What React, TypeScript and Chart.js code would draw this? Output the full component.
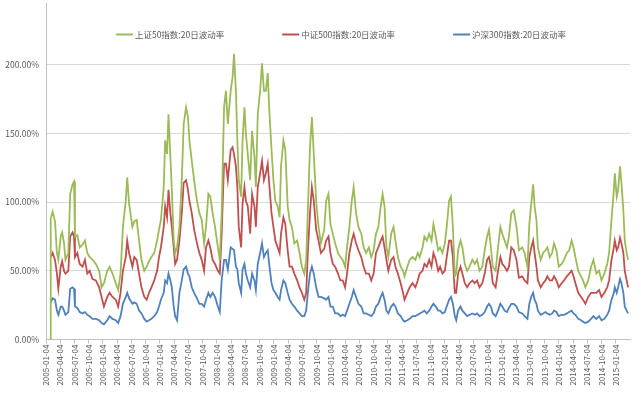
import React, { useEffect, useRef } from 'react';
import { Chart, registerables } from 'chart.js';

Chart.register(...registerables);

const seriesNames = ['上证50指数:20日波动率', '中证500指数:20日波动率', '沪深300指数:20日波动率'];
const seriesColors = ['#9BBB59', '#C0504D', '#4F81BD'];

const tickLabels = [
  '2005-01-04', '2005-04-04', '2005-07-04', '2005-10-04', '2006-01-04', '2006-04-04', '2006-07-04', '2006-10-04',
  '2007-01-04', '2007-04-04', '2007-07-04', '2007-10-04', '2008-01-04', '2008-04-04', '2008-07-04', '2008-10-04',
  '2009-01-04', '2009-04-04', '2009-07-04', '2009-10-04', '2010-01-04', '2010-04-04', '2010-07-04', '2010-10-04',
  '2011-01-04', '2011-04-04', '2011-07-04', '2011-10-04', '2012-01-04', '2012-04-04', '2012-07-04', '2012-10-04',
  '2013-01-04', '2013-04-04', '2013-07-04', '2013-10-04', '2014-01-04', '2014-04-04', '2014-07-04', '2014-10-04',
  '2015-01-04',
];
const yTicks = [0, 50, 100, 150, 200];

// time of each sample, in months since 2005-01-04
const months = [
  0.85, 1.0, 1.4, 1.9, 2.3, 2.6, 3.1, 3.4, 3.8, 4.1,
  4.7, 5.1, 5.6, 5.9, 6.1, 6.6, 7.1, 7.7, 8.2, 8.7,
  9.2, 9.8, 10.5, 11.2, 11.7, 12.2, 12.9, 13.4, 14.0, 14.7,
  15.2, 15.7, 16.2, 16.8, 17.1, 17.5, 18.2, 18.6, 19.1, 19.6,
  20.1, 20.7, 21.2, 21.7, 22.2, 22.8, 23.4, 23.8, 24.2, 24.8,
  25.1, 25.5, 25.8, 26.2, 26.5, 26.9, 27.2, 27.6, 28.1, 28.6,
  29.0, 29.5, 29.9, 30.2, 30.7, 31.2, 31.8, 32.3, 32.8, 33.3,
  33.7, 34.2, 34.6, 35.1, 35.6, 36.2, 36.6, 37.0, 37.5, 37.9,
  38.3, 38.9, 39.3, 39.6, 40.0, 40.3, 40.6, 41.1, 41.4, 41.8,
  42.1, 42.5, 43.0, 43.4, 43.9, 44.2, 44.6, 45.1, 45.5, 45.9,
  46.3, 46.7, 47.0, 47.5, 47.9, 48.3, 48.8, 49.2, 49.5, 50.0,
  50.4, 50.9, 51.3, 51.8, 52.3, 52.9, 53.4, 53.9, 54.4, 54.8,
  55.2, 55.6, 56.0, 56.4, 56.9, 57.4, 57.9, 58.6, 59.0, 59.5,
  59.9, 60.4, 60.9, 61.5, 62.0, 62.5, 63.0, 63.4, 63.9, 64.4,
  64.8, 65.3, 65.8, 66.4, 66.9, 67.4, 68.0, 68.5, 69.0, 69.5,
  70.0, 70.5, 70.9, 71.3, 71.7, 72.1, 72.7, 73.2, 73.6, 74.1,
  74.7, 75.2, 75.5, 76.1, 76.6, 77.2, 77.8, 78.3, 78.7, 79.3,
  79.7, 80.2, 80.7, 81.2, 81.6, 82.1, 82.6, 83.0, 83.5, 84.0,
  84.4, 84.9, 85.3, 85.7, 86.1, 86.4, 86.8, 87.3, 87.7, 88.2,
  88.7, 89.2, 89.8, 90.3, 90.8, 91.3, 91.9, 92.4, 92.9, 93.3,
  93.7, 94.1, 94.7, 95.2, 95.7, 96.1, 96.6, 97.1, 97.5, 98.0,
  98.5, 99.1, 99.6, 100.3, 100.8, 101.4, 101.8, 102.2, 102.6, 102.9,
  103.3, 103.6, 104.2, 104.7, 105.2, 105.6, 106.1, 106.6, 107.0, 107.5,
  108.0, 108.6, 109.1, 109.7, 110.2, 110.7, 111.1, 111.5, 112.1, 112.7,
  113.1, 113.6, 114.2, 114.8, 115.3, 115.9, 116.5, 117.0, 117.6, 118.2,
  118.6, 119.1, 119.6, 119.8, 120.2, 120.5, 120.9, 121.2, 121.6, 121.9,
  122.3, 122.6,
];

// 上证50 (%)
const sz50 = [
  0, 88, 93, 86, 63, 58, 75, 78, 70, 58,
  63, 106, 113, 115, 75, 76, 67, 69, 72, 63,
  60, 58, 55, 50, 38, 41, 50, 53, 48, 41,
  36, 48, 82, 101, 118, 99, 82, 86, 87, 72,
  58, 50, 53, 57, 60, 63, 72, 80, 87, 111,
  145, 135, 164, 133, 109, 72, 63, 67, 82, 116,
  157, 169, 162, 145, 130, 116, 101, 92, 87, 70,
  82, 106, 104, 92, 82, 67, 58, 92, 169, 181,
  157, 181, 191, 208, 181, 145, 116, 104, 145, 169,
  150, 135, 116, 152, 133, 111, 164, 181, 201, 181,
  181, 194, 169, 138, 116, 101, 97, 89, 126, 145,
  138, 97, 87, 82, 70, 72, 63, 53, 48, 58,
  99, 140, 162, 135, 101, 82, 70, 80, 101, 106,
  84, 77, 70, 63, 60, 58, 53, 67, 82, 101,
  111, 92, 82, 77, 67, 63, 67, 60, 65, 77,
  82, 97, 106, 97, 67, 60, 77, 82, 72, 60,
  53, 50, 46, 53, 58, 60, 58, 63, 60, 67,
  75, 72, 77, 72, 84, 75, 65, 67, 63, 70,
  82, 101, 104, 82, 46, 48, 65, 72, 67, 55,
  50, 53, 58, 55, 58, 50, 53, 65, 75, 80,
  67, 53, 50, 67, 82, 77, 72, 67, 75, 92,
  94, 82, 65, 67, 63, 53, 84, 99, 113, 97,
  87, 67, 58, 63, 65, 67, 60, 63, 70, 65,
  53, 55, 58, 63, 65, 72, 67, 60, 50, 46,
  43, 38, 43, 53, 58, 48, 50, 43, 48, 55,
  63, 87, 109, 121, 104, 109, 126, 114, 94, 72,
  63, 58,
];

// 中证500 (%)
const zz500 = [
  null, 60, 63, 58, 48, 37, 53, 57, 50, 48,
  50, 75, 78, 75, 60, 63, 55, 53, 58, 48,
  50, 44, 43, 38, 31, 24, 31, 34, 31, 29,
  24, 34, 50, 60, 72, 63, 53, 60, 58, 48,
  38, 31, 29, 34, 38, 43, 50, 60, 67, 82,
  97, 89, 109, 92, 82, 67, 55, 58, 72, 92,
  114, 116, 109, 101, 92, 80, 70, 63, 58, 50,
  67, 72, 67, 58, 55, 50, 48, 77, 128, 128,
  116, 138, 140, 135, 126, 111, 82, 67, 99, 111,
  101, 97, 77, 106, 97, 82, 111, 121, 130, 116,
  121, 128, 114, 92, 82, 72, 67, 63, 77, 89,
  84, 65, 53, 53, 48, 43, 38, 34, 29, 34,
  67, 92, 111, 101, 80, 72, 63, 66, 72, 75,
  63, 55, 53, 48, 43, 43, 38, 48, 63, 72,
  77, 70, 65, 60, 53, 48, 48, 43, 48, 63,
  67, 72, 75, 67, 58, 50, 58, 60, 53, 48,
  41, 34, 29, 34, 38, 41, 38, 43, 48, 50,
  55, 53, 58, 53, 63, 58, 50, 53, 48, 50,
  60, 72, 72, 60, 34, 34, 48, 53, 48, 41,
  38, 41, 43, 41, 43, 38, 41, 48, 58, 60,
  53, 41, 38, 50, 60, 55, 53, 50, 53, 67,
  65, 58, 45, 46, 43, 41, 60, 67, 72, 63,
  53, 43, 38, 41, 43, 46, 43, 43, 46, 43,
  38, 41, 43, 46, 48, 50, 46, 41, 34, 31,
  29, 26, 31, 34, 34, 34, 36, 31, 34, 38,
  43, 58, 67, 72, 65, 67, 74, 70, 63, 50,
  43, 38,
];

// 沪深300 (%)
const hs300 = [
  null, 27, 30, 29, 21, 18, 24, 24, 21, 18,
  20, 37, 38, 37, 24, 23, 20, 19, 20, 18,
  17, 15, 15, 14, 12, 11, 14, 17, 15, 14,
  12, 17, 26, 31, 34, 30, 26, 27, 26, 21,
  19, 15, 13, 14, 15, 17, 20, 24, 29, 34,
  43, 41, 48, 43, 38, 24, 17, 14, 34, 43,
  51, 53, 48, 46, 38, 34, 30, 26, 26, 24,
  29, 34, 31, 34, 31, 24, 20, 43, 58, 58,
  51, 67, 66, 65, 53, 51, 41, 34, 51, 55,
  48, 43, 38, 48, 43, 36, 55, 63, 70, 60,
  63, 65, 55, 41, 36, 34, 31, 29, 36, 43,
  41, 34, 29, 26, 24, 21, 19, 17, 17, 21,
  36, 48, 53, 48, 38, 31, 31, 30, 29, 31,
  24, 24, 19, 19, 17, 18, 17, 21, 26, 31,
  36, 31, 26, 24, 19, 19, 18, 17, 19, 24,
  26, 31, 34, 29, 21, 19, 24, 26, 24, 19,
  17, 14, 13, 14, 15, 17, 17, 18, 19, 20,
  21, 19, 21, 24, 26, 24, 21, 21, 19, 20,
  24, 29, 31, 26, 17, 14, 21, 24, 21, 19,
  17, 18, 19, 18, 19, 17, 18, 20, 24, 26,
  24, 19, 17, 21, 26, 24, 21, 20, 23, 26,
  26, 24, 20, 19, 17, 15, 26, 31, 34, 29,
  26, 21, 18, 19, 20, 19, 18, 19, 21, 20,
  17, 18, 18, 19, 20, 21, 19, 18, 15, 14,
  13, 12, 13, 15, 17, 15, 17, 14, 15, 18,
  21, 29, 34, 38, 34, 38, 44, 41, 34, 24,
  21, 19,
];

const seriesValues = [sz50, zz500, hs300];

const FONT = '"Noto Sans CJK SC", "Noto Sans", sans-serif';
const TEXT_COLOR = '#595959';

const insideLegend = {
  id: 'insideLegend',
  afterDraw(chart: any) {
    const { ctx, chartArea } = chart;
    ctx.save();
    ctx.font = `8.5px ${FONT}`;
    ctx.textBaseline = 'middle';
    ctx.textAlign = 'left';
    const lineW = 17;
    const gapText = 2;
    const gapItem = 58;
    const widths = chart.data.datasets.map((d: any) => lineW + gapText + ctx.measureText(d.label).width);
    const total = widths.reduce((a: number, b: number) => a + b, 0) + gapItem * (widths.length - 1);
    let x = (chartArea.left + chartArea.right) / 2 + 3 - total / 2;
    const y = 34.5;
    chart.data.datasets.forEach((d: any, i: number) => {
      ctx.strokeStyle = d.borderColor;
      ctx.lineWidth = 2;
      ctx.beginPath();
      ctx.moveTo(x, y);
      ctx.lineTo(x + lineW, y);
      ctx.stroke();
      ctx.fillStyle = TEXT_COLOR;
      ctx.fillText(d.label, x + lineW + gapText, y + 0.5);
      x += widths[i] + gapItem;
    });
    ctx.restore();
  },
};

const whiteBg = {
  id: 'whiteBg',
  beforeDraw(chart: any) {
    const { ctx, width, height } = chart;
    ctx.save();
    ctx.fillStyle = '#ffffff';
    ctx.fillRect(0, 0, width, height);
    ctx.restore();
  },
};

export default function App() {
  const canvasRef = useRef<HTMLCanvasElement | null>(null);

  useEffect(() => {
    if (!canvasRef.current) return;
    const datasets = seriesNames.map((name, si) => ({
      label: name,
      data: months.map((m, i) => ({ x: m, y: seriesValues[si][i] })),
      borderColor: seriesColors[si],
      backgroundColor: seriesColors[si],
      borderWidth: 1.8,
      pointRadius: 0,
      tension: 0,
      fill: false,
    }));
    const chart = new Chart(canvasRef.current, {
      type: 'line',
      data: { datasets },
      plugins: [whiteBg, insideLegend],
      options: {
        animation: false,
        responsive: true,
        maintainAspectRatio: false,
        layout: { autoPadding: false, padding: { top: 3, right: 11, left: 0, bottom: 0 } },
        plugins: {
          legend: { display: false },
          tooltip: { enabled: false },
        },
        scales: {
          x: {
            type: 'linear',
            min: 0,
            max: 123,
            afterBuildTicks: (scale: any) => {
              scale.ticks = tickLabels.map((_, i) => ({ value: i * 3 }));
            },
            afterFit: (scale: any) => {
              scale.height = 58.5;
              scale.paddingLeft = 0;
              scale.paddingRight = 0;
              scale.paddingTop = 0;
              scale.paddingBottom = 0;
            },
            grid: {
              display: true,
              drawOnChartArea: false,
              drawTicks: true,
              tickLength: 4,
              color: '#bfbfbf',
            },
            border: { display: true, color: '#bfbfbf' },
            ticks: {
              autoSkip: false,
              minRotation: 90,
              maxRotation: 90,
              padding: 1,
              color: TEXT_COLOR,
              font: { family: FONT, size: 8 },
              callback: (v: any) => tickLabels[Math.round(Number(v) / 3)] ?? '',
            },
          },
          y: {
            type: 'linear',
            min: 0,
            max: 245,
            afterBuildTicks: (scale: any) => {
              scale.ticks = yTicks.map((v) => ({ value: v }));
            },
            afterFit: (scale: any) => {
              scale.width = 46;
              scale.paddingTop = 0;
              scale.paddingBottom = 0;
              scale.paddingLeft = 0;
              scale.paddingRight = 0;
            },
            grid: {
              color: '#d9d9d9',
              drawTicks: false,
            },
            border: { display: true, color: '#bfbfbf' },
            ticks: {
              padding: 7,
              color: TEXT_COLOR,
              font: { family: FONT, size: 8.5 },
              callback: (v: any) => Number(v).toFixed(2) + '%',
            },
          },
        },
      },
    });
    return () => chart.destroy();
  }, []);

  return (
    <div style={{ position: 'fixed', left: 0, top: 0, width: 641, height: 398, background: '#fff' }}>
      <canvas ref={canvasRef} />
    </div>
  );
}
